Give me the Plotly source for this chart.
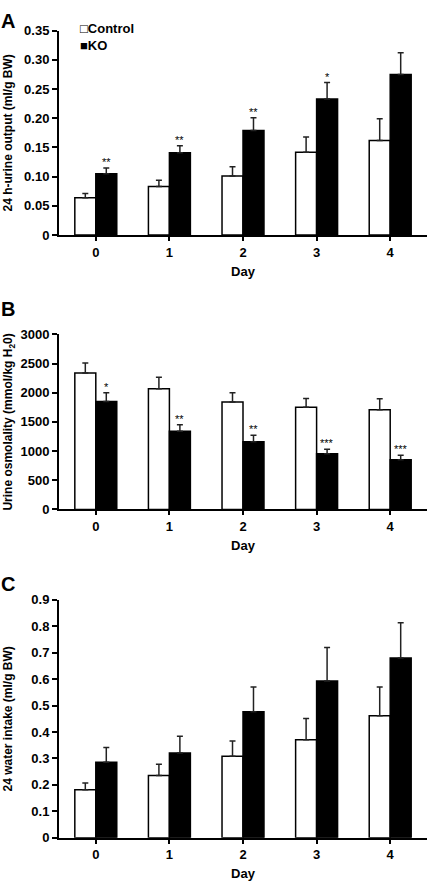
import plotly.graph_objects as go

days = [0, 1, 2, 3, 4]
day_labels = ["0", "1", "2", "3", "4"]

# Panel A: 24 h-urine output (ml/g BW)
urine_ctrl = [0.064, 0.083, 0.101, 0.142, 0.162]
urine_ctrl_err = [0.007, 0.011, 0.016, 0.026, 0.037]
urine_ko = [0.105, 0.141, 0.179, 0.233, 0.275]
urine_ko_err = [0.010, 0.012, 0.022, 0.028, 0.037]
urine_sig = ["**", "**", "**", "*", ""]
urine_ticks = [0, 0.05, 0.10, 0.15, 0.20, 0.25, 0.30, 0.35]
urine_ticktext = ["0", "0.05", "0.10", "0.15", "0.20", "0.25", "0.30", "0.35"]

# Panel B: Urine osmolality (mmol/kg H2O)
osm_ctrl = [2340, 2070, 1840, 1750, 1710]
osm_ctrl_err = [170, 195, 160, 150, 185]
osm_ko = [1850, 1340, 1160, 955, 850]
osm_ko_err = [150, 110, 110, 75, 80]
osm_sig = ["*", "**", "**", "***", "***"]
osm_ticks = [0, 500, 1000, 1500, 2000, 2500, 3000]
osm_ticktext = ["0", "500", "1000", "1500", "2000", "2500", "3000"]

# Panel C: 24 water intake (ml/g BW)
water_ctrl = [0.182, 0.236, 0.308, 0.371, 0.462]
water_ctrl_err = [0.025, 0.042, 0.058, 0.080, 0.108]
water_ko = [0.286, 0.321, 0.477, 0.593, 0.680]
water_ko_err = [0.056, 0.063, 0.093, 0.127, 0.133]
water_ticks = [0, 0.1, 0.2, 0.3, 0.4, 0.5, 0.6, 0.7, 0.8, 0.9]
water_ticktext = ["0", "0.1", "0.2", "0.3", "0.4", "0.5", "0.6", "0.7", "0.8", "0.9"]

legend_labels = ["\u25a1Control", "\u25a0KO"]

W, H = 433, 892
FONT = "Arial, Liberation Sans, sans-serif"
BARGAP = 0.43

fig = go.Figure()

panels = [
    dict(ax="", ctrl=urine_ctrl, cerr=urine_ctrl_err, ko=urine_ko, kerr=urine_ko_err, sig=urine_sig,
         top=24, bottom=232, rng=[0, 0.35], tv=urine_ticks, tt=urine_ticktext,
         title="24 h-urine output (ml/g BW)", label="A", label_y=1, standoff=9),
    dict(ax="2", ctrl=osm_ctrl, cerr=osm_ctrl_err, ko=osm_ko, kerr=osm_ko_err, sig=osm_sig,
         top=333, bottom=511, rng=[0, 3000], tv=osm_ticks, tt=osm_ticktext,
         title="Urine osmolality (mmol/kg H<sub>2</sub>0)", label="B", label_y=294, standoff=5),
    dict(ax="3", ctrl=water_ctrl, cerr=water_ctrl_err, ko=water_ko, kerr=water_ko_err, sig=None,
         top=603, bottom=845, rng=[0, 0.9], tv=water_ticks, tt=water_ticktext,
         title="24 water intake (ml/g BW)", label="C", label_y=574, standoff=16),
]

x0, x1 = 59 / W, 427 / W
tickfont = dict(family=FONT, size=13, color="black", weight="bold")
titlefont = dict(family=FONT, size=12, color="black", weight="bold")

for i, p in enumerate(panels):
    xa = "x" + p["ax"]
    ya = "y" + p["ax"]
    fig.add_trace(go.Bar(
        x=days, y=p["ctrl"], name="Control", xaxis=xa, yaxis=ya,
        marker=dict(color="white", line=dict(color="black", width=1.5)),
        error_y=dict(type="data", array=p["cerr"], arrayminus=[0] * 5, symmetric=False,
                     color="#222", thickness=1.5, width=3),
        showlegend=False,
    ))
    fig.add_trace(go.Bar(
        x=days, y=p["ko"], name="KO", xaxis=xa, yaxis=ya,
        marker=dict(color="black", line=dict(color="black", width=1.5)),
        error_y=dict(type="data", array=p["kerr"], arrayminus=[0] * 5, symmetric=False,
                     color="#222", thickness=1.5, width=3),
        showlegend=False,
    ))
    dom_y = [1 - p["bottom"] / H, 1 - p["top"] / H]
    fig.layout["xaxis" + p["ax"]] = dict(
        domain=[x0, x1], anchor=ya, range=[-0.5, 4.5],
        tickmode="array", tickvals=days, ticktext=day_labels,
        showline=True, linecolor="black", linewidth=2, ticks="outside", ticklen=4,
        tickcolor="black", tickwidth=1.5, showgrid=False, zeroline=False,
        tickfont=tickfont,
        title=dict(text="Day", font=dict(family=FONT, size=13, color="black", weight="bold"), standoff=8),
    )
    fig.layout["yaxis" + p["ax"]] = dict(
        domain=dom_y, anchor=xa, range=p["rng"],
        tickmode="array", tickvals=p["tv"], ticktext=p["tt"],
        showline=True, linecolor="black", linewidth=2, ticks="outside", ticklen=5,
        tickcolor="black", tickwidth=2, showgrid=False, zeroline=False,
        tickfont=tickfont,
        title=dict(text=p["title"], font=titlefont, standoff=p["standoff"]),
    )
    fig.add_annotation(text="<b>" + p["label"] + "</b>", xref="paper", yref="paper",
                       x=-1 / W, y=1 - p["label_y"] / H, xanchor="left", yanchor="top",
                       showarrow=False, font=dict(family=FONT, size=20, color="black"))
    if p["sig"]:
        off = (1 - BARGAP) / 4
        for d, v, e, s in zip(days, p["ko"], p["kerr"], p["sig"]):
            if s:
                fig.add_annotation(text=s, xref=xa, yref=ya, x=d + off, y=v + e,
                                   xanchor="center", yanchor="bottom", showarrow=False,
                                   font=dict(family=FONT, size=11, color="black"), yshift=-2)

# legend drawn as text, like the original figure (one block, two lines)
fig.add_annotation(text="<b>" + "<br>".join(legend_labels) + "</b>", xref="paper", yref="paper",
                   x=78 / W, y=1 - 30.5 / H, xanchor="left", yanchor="middle", align="left",
                   showarrow=False, font=dict(family=FONT, size=13, color="black"))

fig.update_layout(
    width=W, height=H,
    margin=dict(l=0, r=0, t=0, b=0),
    paper_bgcolor="white", plot_bgcolor="white",
    barmode="group", bargap=BARGAP, bargroupgap=0,
    showlegend=False,
    font=dict(family=FONT, color="black"),
)

fig.write_html("out.html", config={"displayModeBar": False},
               post_script="document.body.style.margin='0';")
